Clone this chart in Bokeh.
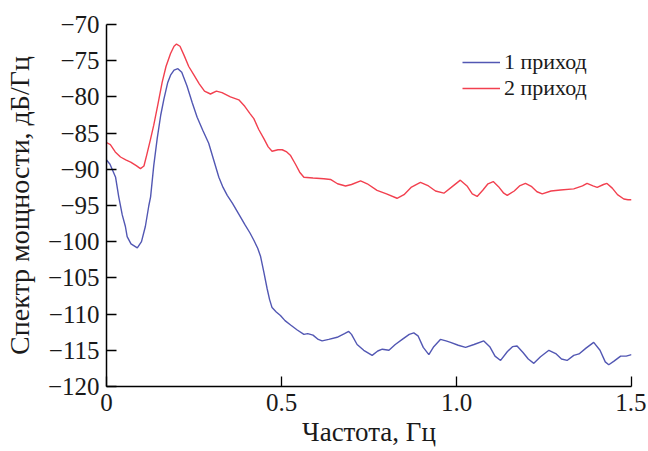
from bokeh.plotting import figure
from bokeh.models import Range1d, FixedTicker, Legend, LegendItem
from bokeh.embed import file_html
from bokeh.resources import INLINE

# ---- data ----
freq1 = [0.000, 0.010, 0.026, 0.035, 0.045, 0.054, 0.059, 0.070, 0.088, 0.100,
         0.111, 0.121, 0.126, 0.135, 0.145, 0.155, 0.164, 0.175, 0.183, 0.193,
         0.204, 0.215, 0.230, 0.245, 0.259, 0.275, 0.292, 0.305, 0.321, 0.333,
         0.345, 0.360, 0.383, 0.395, 0.410, 0.421, 0.432, 0.440, 0.450, 0.459,
         0.466, 0.473, 0.485, 0.497, 0.510, 0.526, 0.545, 0.564, 0.575, 0.590,
         0.605, 0.616, 0.635, 0.659, 0.680, 0.692, 0.700, 0.716, 0.735, 0.759,
         0.775, 0.788, 0.807, 0.825, 0.845, 0.865, 0.878, 0.890, 0.905, 0.921,
         0.935, 0.954, 0.970, 0.983, 1.005, 1.026, 1.050, 1.078, 1.095, 1.110,
         1.126, 1.145, 1.160, 1.173, 1.190, 1.205, 1.221, 1.240, 1.264, 1.285,
         1.300, 1.316, 1.335, 1.350, 1.370, 1.392, 1.410, 1.425, 1.435, 1.450,
         1.469, 1.485, 1.500]
psd1 = [-88.7, -89.3, -91.1, -93.8, -96.3, -97.9, -99.3, -100.3, -100.85, -100.0,
        -97.9, -95.0, -93.8, -89.5, -85.7, -82.5, -80.3, -78.0, -77.0, -76.3,
        -76.1, -76.6, -78.5, -80.8, -82.8, -84.6, -86.4, -88.5, -91.1, -92.5,
        -93.6, -94.7, -96.6, -97.6, -98.8, -99.8, -100.9, -102.0, -104.3, -106.5,
        -108.0, -109.1, -109.7, -110.2, -110.9, -111.5, -112.2, -112.8, -112.7, -112.9,
        -113.5, -113.7, -113.5, -113.2, -112.7, -112.4, -112.8, -114.2, -115.0, -115.7,
        -115.1, -114.85, -115.0, -114.2, -113.5, -112.8, -112.6, -113.0, -114.6, -115.6,
        -114.5, -113.5, -113.7, -113.9, -114.3, -114.6, -114.2, -113.7, -114.5, -115.8,
        -116.4, -115.2, -114.5, -114.4, -115.3, -116.2, -116.8, -115.9, -115.0, -115.5,
        -116.2, -116.4, -115.7, -115.5, -114.7, -113.9, -115.0, -116.6, -117.0, -116.5,
        -115.8, -115.8, -115.6]

freq2 = [0.000, 0.011, 0.025, 0.040, 0.055, 0.069, 0.085, 0.097, 0.107, 0.115,
         0.125, 0.135, 0.147, 0.159, 0.170, 0.183, 0.193, 0.200, 0.210, 0.222,
         0.235, 0.250, 0.265, 0.280, 0.297, 0.314, 0.330, 0.354, 0.378, 0.395,
         0.410, 0.421, 0.435, 0.450, 0.462, 0.473, 0.490, 0.502, 0.515, 0.526,
         0.540, 0.552, 0.564, 0.590, 0.621, 0.640, 0.660, 0.683, 0.700, 0.726,
         0.745, 0.773, 0.800, 0.830, 0.850, 0.870, 0.897, 0.920, 0.940, 0.964,
         0.985, 1.011, 1.030, 1.045, 1.059, 1.075, 1.090, 1.105, 1.120, 1.135,
         1.145, 1.165, 1.180, 1.197, 1.215, 1.230, 1.245, 1.270, 1.297, 1.335,
         1.360, 1.373, 1.390, 1.402, 1.420, 1.430, 1.445, 1.460, 1.478, 1.490,
         1.500]
psd2 = [-86.3, -86.6, -87.6, -88.3, -88.7, -89.0, -89.5, -89.9, -89.55, -88.0,
        -86.0, -83.9, -81.0, -78.0, -75.8, -74.0, -73.0, -72.7, -73.0, -74.3,
        -75.8, -77.0, -78.2, -79.2, -79.6, -79.2, -79.4, -80.0, -80.4, -81.3,
        -82.3, -83.0, -84.5, -85.8, -86.9, -87.5, -87.3, -87.3, -87.6, -88.1,
        -89.3, -90.4, -91.1, -91.2, -91.3, -91.4, -92.0, -92.3, -92.1, -91.6,
        -92.0, -92.9, -93.4, -94.0, -93.5, -92.5, -91.8, -92.3, -93.0, -93.3,
        -92.5, -91.5, -92.3, -93.4, -93.75, -92.9, -92.0, -91.7, -92.4, -93.3,
        -93.6, -93.0, -92.3, -91.95, -92.4, -93.1, -93.4, -93.0, -92.85, -92.7,
        -92.3, -91.95, -92.3, -92.5, -92.1, -91.95, -92.6, -93.5, -94.1, -94.2,
        -94.2]

x_ticks = [0, 0.5, 1.0, 1.5]
x_tick_labels = ["0", "0.5", "1.0", "1.5"]
y_ticks = [-120, -115, -110, -105, -100, -95, -90, -85, -80, -75, -70]
y_tick_labels = ["\u2212" + str(abs(v)) for v in y_ticks]
series_names = ["1 приход", "2 приход"]
series_colors = ["#5257b3", "#f2404f"]
x_title = "Частота, Гц"
y_title = "Спектр мощности, дБ/Гц"

FONT = "Liberation Serif"

p = figure(width=646, height=449, output_backend="svg", toolbar_location=None,
           x_range=Range1d(0, 1.5), y_range=Range1d(-120, -70),
           min_border_left=106, min_border_right=15, min_border_top=24,
           min_border_bottom=56)
p.outline_line_color = None
p.grid.visible = False
p.background_fill_color = "white"
p.border_fill_color = "white"

r1 = p.line(freq1, psd1, line_color=series_colors[0], line_width=1.4)
r2 = p.line(freq2, psd2, line_color=series_colors[1], line_width=1.4)

for ax in (p.xaxis[0], p.yaxis[0]):
    ax.axis_line_color = "black"
    ax.axis_line_width = 1.5
    ax.major_tick_line_color = "black"
    ax.major_tick_line_width = 1.3
    ax.major_tick_in = 10
    ax.major_tick_out = 0
    ax.minor_tick_line_color = None
    ax.major_label_text_font = FONT
    ax.major_label_text_font_size = "25px"
    ax.major_label_text_color = "#1a1a1a"
    ax.axis_label_text_font = FONT
    ax.axis_label_text_font_style = "normal"
    ax.axis_label_text_color = "#1a1a1a"

p.xaxis.axis_label_text_font_size = "27px"
p.yaxis.axis_label_text_font_size = "28px"
p.xaxis.ticker = FixedTicker(ticks=x_ticks)
p.xaxis.major_label_overrides = dict(zip(x_ticks, x_tick_labels))
p.yaxis.ticker = FixedTicker(ticks=y_ticks)
p.yaxis.major_label_overrides = dict(zip(y_ticks, y_tick_labels))
p.xaxis.axis_label = x_title
p.yaxis.axis_label = y_title
p.xaxis.major_label_standoff = 7
p.yaxis.major_label_standoff = 7
p.xaxis.axis_label_standoff = 3
p.yaxis.axis_label_standoff = 10

legend = Legend(items=[LegendItem(label=series_names[0], renderers=[r1]),
                       LegendItem(label=series_names[1], renderers=[r2])],
                location=(356, 285), border_line_color=None,
                background_fill_alpha=0, padding=0, margin=0, spacing=0,
                glyph_width=38, glyph_height=20, label_height=20,
                label_standoff=4, label_text_font=FONT,
                label_text_font_size="22px", label_text_color="#1a1a1a")
p.add_layout(legend)

open("out.html", "w").write(file_html(p, INLINE))
